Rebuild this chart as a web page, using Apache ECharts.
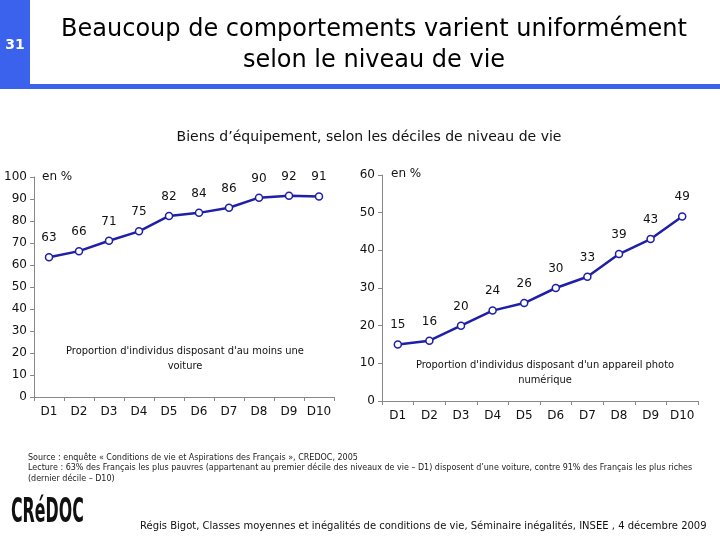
<!DOCTYPE html>
<html><head><meta charset="utf-8">
<script src="https://cdn.jsdelivr.net/npm/echarts@6/dist/echarts.min.js"></script>
<style>html,body{margin:0;padding:0;background:#fff}#c{width:720px;height:540px}</style>
</head><body><div id="c"></div>
<script>
const categories = ['D1','D2','D3','D4','D5','D6','D7','D8','D9','D10'];
const voitureValues = [63, 66, 71, 75, 82, 84, 86, 90, 92, 91];
const voiturePlot = [63.5, 66.3, 71, 75.3, 82.3, 83.7, 86, 90.6, 91.5, 91.1];
const photoValues = [15, 16, 20, 24, 26, 30, 33, 39, 43, 49];
const leftTicks = [0,10,20,30,40,50,60,70,80,90,100];
const rightTicks = [0,10,20,30,40,50,60];

const FONT = 'DejaVu Sans';
const LINE = '#1f1fa8';
const chart = echarts.init(document.getElementById('c'), null, {renderer:'canvas'});

function lineSeries(idx, plot, labels){
  return {
    type:'line', xAxisIndex:idx, yAxisIndex:idx,
    data: plot.map((v,i)=>({value:v, label:{formatter:String(labels[i])}})),
    symbol:'circle', symbolSize:7,
    itemStyle:{color:'#fff', borderColor:LINE, borderWidth:1.5},
    lineStyle:{color:LINE, width:2.5},
    label:{show:true, position:'top', distance:9, color:'#111', fontFamily:FONT, fontSize:12},
    animation:false, z:3
  };
}
function axis(extra, margin){
  return Object.assign({
    axisLine:{show:true, lineStyle:{color:'#888', width:1}},
    axisTick:{show:true, lineStyle:{color:'#888'}, length:4},
    splitLine:{show:false},
    axisLabel:{color:'#111', fontFamily:FONT, fontSize:12, margin:margin, interval:0}
  }, extra);
}
chart.setOption({
  animation:false,
  grid:[
    {left:34, top:177, width:300, height:220},
    {left:382, top:175, width:316, height:226}
  ],
  xAxis:[
    axis({type:'category', gridIndex:0, data:categories, boundaryGap:true}, 9),
    axis({type:'category', gridIndex:1, data:categories, boundaryGap:true}, 9)
  ],
  yAxis:[
    axis({type:'value', gridIndex:0, min:leftTicks[0], max:leftTicks[leftTicks.length-1], interval:10}, 7),
    axis({type:'value', gridIndex:1, min:rightTicks[0], max:rightTicks[rightTicks.length-1], interval:10}, 7)
  ],
  series:[
    lineSeries(0, voiturePlot, voitureValues),
    lineSeries(1, photoValues, photoValues)
  ],
  graphic:[
    {type:'rect', shape:{x:0,y:0,width:30,height:86}, style:{fill:'#3a62ec'}},
    {type:'rect', shape:{x:0,y:84,width:720,height:5}, style:{fill:'#3a62ec'}},
    {type:'text', x:15, y:45, style:{text:'31', fill:'#fff', font:'bold 14px "DejaVu Sans"', align:'center', verticalAlign:'middle'}},
    {type:'text', x:374, y:30, style:{text:'Beaucoup de comportements varient uniformément', fill:'#000', font:'24px "DejaVu Sans"', align:'center', verticalAlign:'middle'}},
    {type:'text', x:374, y:61, style:{text:'selon le niveau de vie', fill:'#000', font:'24px "DejaVu Sans"', align:'center', verticalAlign:'middle'}},
    {type:'text', x:369, y:137, style:{text:'Biens d’équipement, selon les déciles de niveau de vie', fill:'#111', font:'14px "DejaVu Sans"', align:'center', verticalAlign:'middle'}},
    {type:'text', x:42, y:177, style:{text:'en %', fill:'#111', font:'12px "DejaVu Sans"', align:'left', verticalAlign:'middle'}},
    {type:'text', x:391, y:174, style:{text:'en %', fill:'#111', font:'12px "DejaVu Sans"', align:'left', verticalAlign:'middle'}},
    {type:'text', x:185, y:359, style:{text:'Proportion d\'individus disposant d\'au moins une\nvoiture', fill:'#111', font:'11px "DejaVu Sans Condensed"', lineHeight:15, align:'center', verticalAlign:'middle'}},
    {type:'text', x:545, y:373, style:{text:'Proportion d\'individus disposant d\'un appareil photo\nnumérique', fill:'#111', font:'11px "DejaVu Sans Condensed"', lineHeight:15, align:'center', verticalAlign:'middle'}},
    {type:'text', x:28, y:458, style:{text:'Source : enquête « Conditions de vie et Aspirations des Français », CREDOC, 2005', fill:'#222', font:'8px "DejaVu Sans"', align:'left', verticalAlign:'middle'}},
    {type:'text', x:28, y:468, style:{text:'Lecture : 63% des Français les plus pauvres (appartenant au premier décile des niveaux de vie – D1) disposent d’une voiture, contre 91% des Français les plus riches', fill:'#222', font:'8px "DejaVu Sans"', align:'left', verticalAlign:'middle'}},
    {type:'text', x:28, y:479, style:{text:'(dernier décile – D10)', fill:'#222', font:'8px "DejaVu Sans"', align:'left', verticalAlign:'middle'}},
    {type:'text', x:11, y:513, scaleX:0.8, scaleY:1.5, style:{text:'CRéDOC', fill:'#111', font:'bold 22px "DejaVu Sans Condensed"', align:'left', verticalAlign:'middle'}},
    {type:'text', x:140, y:526, style:{text:'Régis Bigot, Classes moyennes et inégalités de conditions de vie, Séminaire inégalités, INSEE , 4 décembre 2009', fill:'#111', font:'10px "DejaVu Sans"', align:'left', verticalAlign:'middle'}}
  ]
});
</script></body></html>
